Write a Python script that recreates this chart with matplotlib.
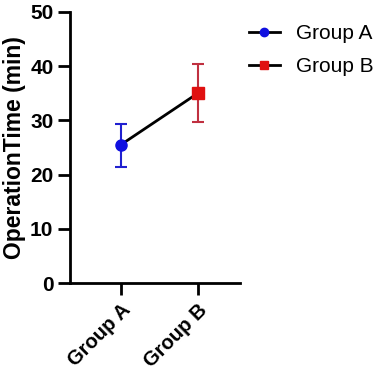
import matplotlib.pyplot as plt
import numpy as np

plt.rcParams['font.family'] = ['Liberation Sans', 'DejaVu Sans']

groups = ['Group A', 'Group B']
means = [25.5, 35.0]
err_low = [4.1, 5.3]
err_high = [3.8, 5.4]
colors = ['#1010e0', '#e01010']
ecolors = ['#2020d0', '#c03040']
markers = ['o', 's']

fig = plt.figure(figsize=(3.83, 3.71), dpi=100)
ax = fig.add_axes([0.183, 0.237, 0.444, 0.731])

x = np.arange(len(groups))
ax.plot(x, means, color='black', lw=2, zorder=2)
handles = []
for i in range(len(groups)):
    ax.errorbar(x[i], means[i], yerr=[[err_low[i]], [err_high[i]]], fmt='none',
                ecolor=ecolors[i], elinewidth=1.5, capsize=4, capthick=1.5, zorder=1)
    ax.plot(x[i], means[i], marker=markers[i], color=colors[i], ms=8, ls='none', zorder=3)
    h, = ax.plot([], [], color='black', lw=2, marker=markers[i], mfc=colors[i],
                 mec=colors[i], ms=6)
    handles.append(h)

ax.set_xlim(-0.66, 1.55)
ax.set_ylim(0, 50)
ax.set_yticks([0, 10, 20, 30, 40, 50])
ax.set_xticks(x)
ax.set_xticklabels(groups, rotation=45, ha='right', rotation_mode='anchor',
                   fontsize=14.5, fontweight='bold')
for lab in ax.get_yticklabels():
    lab.set_fontsize(15)
    lab.set_fontweight('bold')
ax.set_ylabel('OperationTime (min)', fontsize=16.5, fontweight='bold', labelpad=3)
for s in ['top', 'right']:
    ax.spines[s].set_visible(False)
for s in ['left', 'bottom']:
    ax.spines[s].set_linewidth(2)
ax.tick_params(width=2, length=8.5, pad=3.5)
ax.tick_params(axis='x', pad=4)

fig.legend(handles, groups, loc='upper left', bbox_to_anchor=(0.6, 0.985),
           frameon=False, fontsize=15, handlelength=1.5, handletextpad=0.8,
           labelspacing=0.65)

fig.savefig('out.png', dpi=100)
